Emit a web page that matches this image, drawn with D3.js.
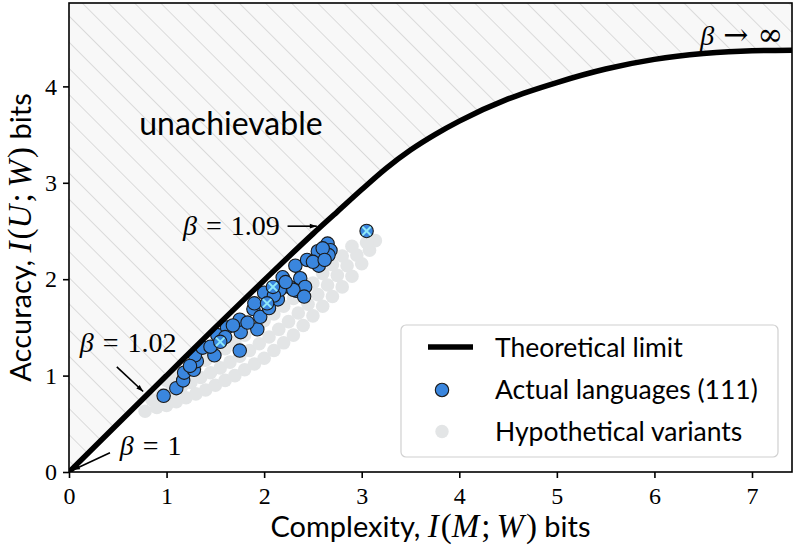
<!DOCTYPE html>
<html><head><meta charset="utf-8">
<script src="https://cdn.jsdelivr.net/npm/d3@7"></script>
<style>
html,body{margin:0;padding:0;background:#fff;}
svg{display:block;}
.sans{font-family:Lato,"Open Sans",sans-serif;}
.serif{font-family:"Liberation Serif","DejaVu Serif",serif;}
.dserif{font-family:"DejaVu Serif",serif;}
</style></head>
<body><svg id="c" width="796" height="552"></svg>
<script>
// ---- data ----
const xTicks = [0,1,2,3,4,5,6,7];
const yTicks = [0,1,2,3,4];
const limitX = [0,0.5,1,1.5,2,2.5,2.75,3,3.25,3.5,3.75,4,4.5,5,5.5,6,6.5,7,7.41];
const limitY = [0,0.5,1,1.5,1.99,2.47,2.7,2.93,3.15,3.34,3.5,3.64,3.87,4.04,4.18,4.28,4.34,4.37,4.375];
const langX = [0.97,1.10,1.17,1.18,1.28,1.31,1.29,1.37,1.49,1.52,1.62,1.75,1.76,1.75,1.89,1.93,1.96,2.00,2.14,2.19,2.26,2.33,2.32,2.37,2.42,2.44,2.56,2.55,2.65,2.68,2.66,2.30,2.16,2.41,1.45,1.60,1.83,2.05,2.22,2.50,2.60,2.62,1.24,1.68,2.10,1.90];
const langY = [0.79,0.87,0.95,1.03,1.06,1.15,1.21,1.29,1.21,1.42,1.50,1.26,1.45,1.58,1.69,1.48,1.61,1.86,1.79,2.02,1.92,1.88,2.14,2.01,1.92,2.20,2.14,2.29,2.37,2.30,2.25,1.89,1.89,1.82,1.30,1.40,1.55,1.70,1.97,2.18,2.32,2.20,1.10,1.52,1.83,1.75];
const crossX = [1.55,2.03,2.09,3.05];
const crossY = [1.35,1.75,1.92,2.50];
const hypoX = [0.78,0.9,1.0,1.1,1.2,1.3,1.4,1.5,1.6,1.7,1.8,1.9,2.0,2.1,2.2,2.3,2.4,2.5,2.6,2.7,2.8,2.9,3.0,3.08,3.14,
  0.85,0.95,1.05,1.15,1.25,1.35,1.45,1.55,1.65,1.75,1.85,1.95,2.05,2.15,2.25,2.35,2.45,2.55,2.65,2.75,2.85,2.95,3.05,
  1.0,1.1,1.2,1.3,1.4,1.5,1.6,1.7,1.8,1.9,2.0,2.1,2.2,2.3,2.4,2.5,2.6,2.7,2.8,2.9];
const hypoY = [0.63,0.67,0.69,0.73,0.77,0.81,0.85,0.9,0.95,1.0,1.06,1.12,1.18,1.26,1.34,1.42,1.52,1.62,1.72,1.82,1.92,2.03,2.16,2.3,2.4,
  0.75,0.8,0.84,0.88,0.93,0.98,1.03,1.08,1.14,1.2,1.26,1.33,1.4,1.48,1.56,1.65,1.74,1.84,1.94,2.04,2.14,2.25,2.38,
  0.95,1.0,1.05,1.1,1.16,1.22,1.28,1.35,1.42,1.5,1.57,1.64,1.72,1.8,1.88,1.96,2.06,2.15,2.24,2.34];
const legendLabels = ["Theoretical limit","Actual languages (111)","Hypothetical variants"];

// ---- layout ----
const W = 796, H = 552;
const m = {left:69, right:4, top:3, bottom:80};
const pw = W - m.left - m.right, ph = H - m.top - m.bottom;
const svg = d3.select("#c");
const x = d3.scaleLinear().domain([0,7.41]).range([m.left, m.left+pw]);
const y = d3.scaleLinear().domain([0,4.865]).range([m.top+ph, m.top]);

const defs = svg.append("defs");
const pat = defs.append("pattern").attr("id","hatch").attr("patternUnits","userSpaceOnUse")
  .attr("width",18.5).attr("height",18.5).attr("patternTransform","rotate(-45)");
pat.append("rect").attr("width",18.5).attr("height",18.5).attr("fill","#f8f8f8");
pat.append("line").attr("x1",0).attr("y1",0).attr("x2",0).attr("y2",18.5)
  .attr("stroke","#d4d4d4").attr("stroke-width",1.6);
defs.append("clipPath").attr("id","clip").append("rect")
  .attr("x",m.left).attr("y",m.top).attr("width",pw).attr("height",ph);
defs.append("marker").attr("id","ah").attr("viewBox","0 0 10 10").attr("refX",10).attr("refY",5)
  .attr("markerWidth",10).attr("markerHeight",7).attr("markerUnits","userSpaceOnUse").attr("orient","auto")
  .append("path").attr("d","M0,1.5 L10,5 L0,8.5 Z").attr("fill","#000");

const g = svg.append("g").attr("clip-path","url(#clip)");
const limit = limitX.map((d,i)=>[d,limitY[i]]);
// hatched unachievable region
const areaGen = d3.area().x(d=>x(d[0])).y0(y(4.865)).y1(d=>y(d[1])).curve(d3.curveMonotoneX);
g.append("path").attr("d", areaGen(limit)).attr("fill","url(#hatch)").attr("stroke","none");

// hypothetical
g.selectAll("circle.h").data(hypoX.map((d,i)=>[d,hypoY[i]])).join("circle")
  .attr("cx",d=>x(d[0])).attr("cy",d=>y(d[1])).attr("r",6.8).attr("fill","#e3e5e6");
// languages
g.selectAll("circle.l").data(langX.map((d,i)=>[d,langY[i]])).join("circle")
  .attr("cx",d=>x(d[0])).attr("cy",d=>y(d[1])).attr("r",6.7)
  .attr("fill","#3a86de").attr("stroke","#1a1a1a").attr("stroke-width",1.1);
const crosses = crossX.map((d,i)=>[d,crossY[i]]);
g.selectAll("circle.c").data(crosses).join("circle")
  .attr("cx",d=>x(d[0])).attr("cy",d=>y(d[1])).attr("r",6.7)
  .attr("fill","#3a86de").attr("stroke","#1a1a1a").attr("stroke-width",1.1);
g.selectAll("path.x").data(crosses).join("path")
  .attr("d",d=>{const cx=x(d[0]),cy=y(d[1]),s=4.2;return `M${cx-s},${cy-s}L${cx+s},${cy+s}M${cx-s},${cy+s}L${cx+s},${cy-s}`;})
  .attr("stroke","#8ee8f8").attr("stroke-width",2);
// limit line
g.append("path").attr("d", d3.line().x(d=>x(d[0])).y(d=>y(d[1])).curve(d3.curveMonotoneX)(limit))
  .attr("fill","none").attr("stroke","#000").attr("stroke-width",5.5);

// frame
svg.append("rect").attr("x",m.left).attr("y",m.top).attr("width",pw).attr("height",ph)
  .attr("fill","none").attr("stroke","#000").attr("stroke-width",1.6);
// axes
const xa = svg.append("g").attr("transform",`translate(0,${m.top+ph})`)
  .call(d3.axisBottom(x).tickValues(xTicks).tickSize(6).tickPadding(6).tickFormat(d3.format("d")));
const ya = svg.append("g").attr("transform",`translate(${m.left},0)`)
  .call(d3.axisLeft(y).tickValues(yTicks).tickSize(6).tickPadding(6).tickFormat(d3.format("d")));
[xa,ya].forEach(a=>{a.select(".domain").remove();
  a.selectAll("line").attr("stroke","#000").attr("stroke-width",1.6);
  a.selectAll("text").attr("class","serif").attr("font-size",24).attr("fill","#000");});
xa.selectAll("text").attr("dy","0.85em");

// axis titles
function title(t, word, v){
  t.append("tspan").attr("class","sans").text(word + ", ");
  t.append("tspan").attr("class","serif").attr("font-size",33).attr("font-style","italic").text("I");
  t.append("tspan").attr("class","serif").attr("font-size",33).attr("dx",2).text("(");
  t.append("tspan").attr("class","serif").attr("font-size",33).attr("font-style","italic").text(v);
  t.append("tspan").attr("class","serif").attr("font-size",33).attr("dx",2).text(";");
  t.append("tspan").attr("class","serif").attr("font-size",33).attr("dx",6).attr("font-style","italic").text("W");
  t.append("tspan").attr("class","serif").attr("font-size",33).attr("dx",2).text(")");
  t.append("tspan").attr("class","sans").text(" bits");
}
const xt = svg.append("text").attr("x",m.left+pw/2).attr("y",537).attr("text-anchor","middle").attr("font-size",29);
title(xt,"Complexity","M");
const yt = svg.append("text").attr("transform",`translate(31,${m.top+ph/2}) rotate(-90)`).attr("text-anchor","middle").attr("font-size",29);
title(yt,"Accuracy","U");

// annotations
svg.append("text").attr("class","sans").attr("x",x(0.72)).attr("y",y(3.5)).attr("font-size",32).text("unachievable");
function beta(tx,ty,anchor,rel,val){
  const t = svg.append("text").attr("class","serif").attr("x",x(tx)).attr("y",y(ty)).attr("text-anchor",anchor).attr("font-size",28);
  t.append("tspan").attr("font-style","italic").text("β");
  t.append("tspan").attr("dx",9).attr("class", rel==="="?"serif":"dserif").attr("font-size", rel==="="?28:30).text(rel);
  t.append("tspan").attr("dx",9).attr("class", val==="∞"?"dserif":"serif").attr("font-size", val==="∞"?31:28).text(val);
  return t;
}
beta(2.16,2.46,"end","=","1.09");
beta(0.11,1.24,"start","=","1.02");
beta(0.52,0.18,"start","=","1");
beta(7.32,4.43,"end","→","∞");
function arrow(x1,y1,x2,y2){
  svg.append("line").attr("x1",x(x1)).attr("y1",y(y1)).attr("x2",x(x2)).attr("y2",y(y2))
    .attr("stroke","#000").attr("stroke-width",1.6).attr("marker-end","url(#ah)");
}
arrow(2.24,2.55,2.54,2.55);
arrow(0.49,1.09,0.76,0.835);
arrow(0.42,0.2,0.04,0.02);

// legend
const lg = svg.append("g");
lg.append("rect").attr("x",401).attr("y",325).attr("width",377).attr("height",132).attr("rx",5)
  .attr("fill","#fff").attr("fill-opacity",0.85).attr("stroke","#d0d0d0").attr("stroke-width",1.2);
lg.append("line").attr("x1",428).attr("x2",473).attr("y1",347).attr("y2",347).attr("stroke","#000").attr("stroke-width",5.5);
lg.append("circle").attr("cx",442).attr("cy",390).attr("r",6.7).attr("fill","#3a86de").attr("stroke","#1a1a1a").attr("stroke-width",1.1);
lg.append("circle").attr("cx",442).attr("cy",431.5).attr("r",6.7).attr("fill","#e3e5e6");
lg.selectAll("text").data(legendLabels).join("text").attr("class","sans")
  .attr("x",495).attr("y",(d,i)=>357+i*42).attr("font-size",26.5).text(d=>d);
</script></body></html>
